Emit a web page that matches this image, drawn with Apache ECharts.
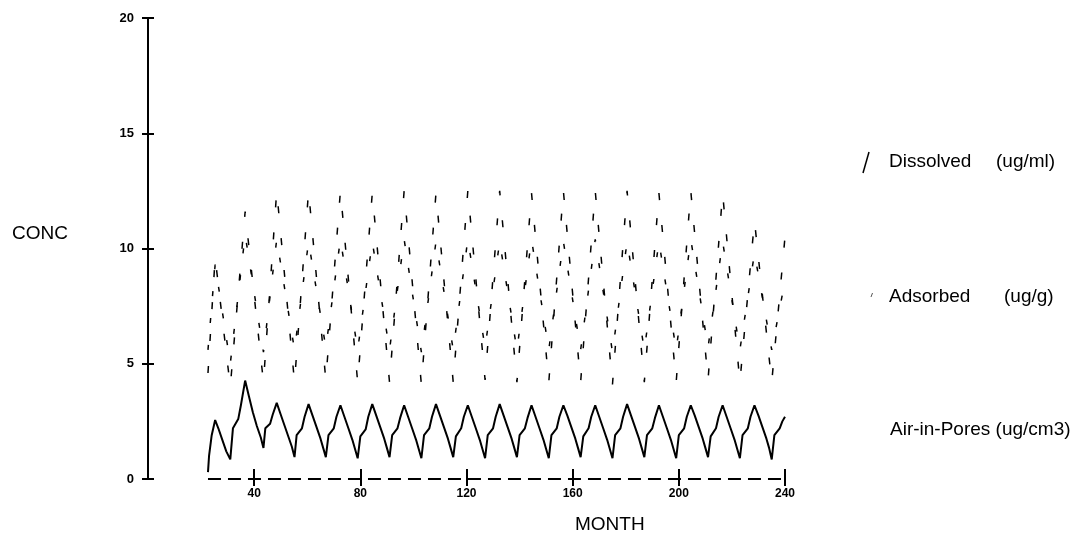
<!DOCTYPE html>
<html>
<head>
<meta charset="utf-8">
<script src="https://cdn.jsdelivr.net/npm/echarts@6/dist/echarts.min.js"></script>
<style>html,body{margin:0;padding:0;background:#fff}#c{width:1083px;height:545px}</style>
</head>
<body>
<div id="c"></div>
<script>
// ---- data (month, concentration) ----
const xTickLabels = [40, 80, 120, 160, 200, 240];
const yTickLabels = [0, 5, 10, 15, 20];
const seriesNames = ['Dissolved', 'Adsorbed', 'Air-in-Pores'];
const seriesUnits = ['(ug/ml)', '(ug/g)', '(ug/cm3)'];

const airInPores = [
[22.6,0.3],[23,1.0],[24,1.9],[25.3,2.56],[26.5,2.2],[28,1.7],[29.5,1.2],[31,0.85],
[32,2.2],[34,2.6],[35,3.2],[36.6,4.27],[38,3.6],[39.5,2.9],[41,2.3],[42.5,1.8],[43.5,1.35],
[44.2,2.2],[46,2.4],[47,2.8],[48.5,3.3],[50,2.8],[51.5,2.3],[53,1.8],[54.2,1.4],[55.2,0.95],
[56,1.9],[58,2.2],[59,2.7],[60.5,3.25],[62,2.75],[63.5,2.25],[65,1.75],[66,1.35],[67,0.95],
[68,1.9],[70,2.2],[71,2.7],[72.5,3.2],[74,2.7],[75.5,2.2],[77,1.7],[78,1.3],[79,0.9],
[80,1.85],[82,2.15],[83,2.7],[84.5,3.25],[86,2.75],[87.5,2.25],[89,1.75],[90,1.35],[91,0.95],
[92,1.9],[94,2.2],[95,2.65],[96.5,3.2],[98,2.7],[99.5,2.2],[101,1.7],[102,1.3],[103,0.9],
[104,1.9],[106,2.2],[107,2.7],[108.5,3.25],[110,2.75],[111.5,2.25],[113,1.75],[114,1.35],[115,0.95],
[116,1.85],[118,2.2],[119,2.7],[120.5,3.2],[122,2.7],[123.5,2.2],[125,1.7],[126,1.3],[127,0.9],
[128,1.9],[130,2.2],[131,2.7],[132.5,3.25],[134,2.75],[135.5,2.25],[137,1.75],[138,1.35],[139,0.95],
[140,1.9],[142,2.2],[143,2.65],[144.5,3.2],[146,2.7],[147.5,2.2],[149,1.7],[150,1.3],[151,0.9],
[152,1.9],[154,2.2],[155,2.7],[156.5,3.2],[158,2.75],[159.5,2.25],[161,1.75],[162,1.35],[163,0.95],
[164,1.85],[166,2.2],[167,2.7],[168.5,3.2],[170,2.7],[171.5,2.2],[173,1.7],[174,1.3],[175,0.9],
[176,1.9],[178,2.2],[179,2.7],[180.5,3.25],[182,2.75],[183.5,2.25],[185,1.75],[186,1.35],[187,0.95],
[188,1.9],[190,2.2],[191,2.65],[192.5,3.2],[194,2.7],[195.5,2.2],[197,1.7],[198,1.3],[199,0.9],
[200,1.9],[202,2.2],[203,2.7],[204.5,3.2],[206,2.75],[207.5,2.25],[209,1.75],[210,1.35],[211,0.95],
[212,1.85],[214,2.2],[215,2.7],[216.5,3.2],[218,2.7],[219.5,2.2],[221,1.7],[222,1.3],[223,0.9],
[224,1.9],[226,2.2],[227,2.7],[228.5,3.2],[230,2.75],[231.5,2.25],[233,1.75],[234,1.35],[235,0.85],
[236,1.9],[238,2.2],[239,2.5],[240,2.7]
];

const dissolved = [
[22.6,4.6],[25.3,9.6],[31,4.0],[36.6,11.6],[43.5,4.2],[48.5,12.5],[55.2,4.2],[60.5,12.5],
[67,4.3],[72.5,12.5],[79,4.2],[84.5,12.4],[91,4.2],[96.5,12.5],[103,4.1],[108.5,12.4],
[115,4.2],[120.5,12.5],[127,4.3],[132.5,12.5],[139,4.2],[144.5,12.4],[151,4.2],[156.5,12.5],
[163,4.2],[168.5,12.5],[175,4.1],[180.5,12.5],[187,4.2],[192.5,12.4],[199,4.2],[204.5,12.5],
[211,4.3],[216.5,12.4],[223,4.2],[228.5,11.2],[235,4.2],[240,10.5]
];

const adsorbed = [
[22.6,5.6],[25.3,9.3],[31,5.0],[36.6,10.6],[43.5,5.5],[48.5,10.4],[55.2,5.6],[60.5,10.3],
[67,5.7],[72.5,10.4],[79,5.6],[84.5,10.3],[91,5.6],[96.5,10.4],[103,5.5],[108.5,10.3],
[115,5.6],[120.5,10.4],[127,5.7],[132.5,10.3],[139,5.6],[144.5,10.4],[151,5.6],[156.5,10.3],
[163,5.6],[168.5,10.4],[175,5.5],[180.5,10.3],[187,5.6],[192.5,10.3],[199,5.6],[204.5,10.4],
[211,5.7],[216.5,10.3],[223,5.6],[228.5,9.8],[235,5.6],[240,8.6]
];

const baseline = [[22.6,0],[240,0]];

// ---- chart ----
const chart = echarts.init(document.getElementById('c'), null, {renderer: 'canvas'});
const tickFont = {color: '#000', fontFamily: 'Liberation Sans', fontWeight: 'bold', fontSize: 13};
const legendFont = {fill: '#000', font: '19px "Liberation Sans"'};

chart.setOption({
  animation: false,
  backgroundColor: '#fff',
  grid: {left: 148, right: 298, top: 18, bottom: 66, containLabel: false},
  xAxis: [
    {type: 'value', min: 0, max: 240, interval: 40,
     axisLine: {show: false}, splitLine: {show: false},
     axisTick: {show: true, length: 7, customValues: xTickLabels, lineStyle: {color: '#000', width: 2}},
     axisLabel: {show: true, margin: 9, customValues: xTickLabels, ...tickFont, fontSize: 12}},
    {type: 'value', min: 0, max: 240, interval: 40, position: 'bottom',
     axisLine: {show: false}, splitLine: {show: false},
     axisTick: {show: true, inside: true, length: 10, customValues: xTickLabels, lineStyle: {color: '#000', width: 2}},
     axisLabel: {show: false}}
  ],
  yAxis: [
    {type: 'value', min: 0, max: 20, interval: 5, position: 'left',
     axisLine: {show: true, lineStyle: {color: '#000', width: 2}},
     splitLine: {show: false},
     axisTick: {show: true, length: 6, customValues: yTickLabels, lineStyle: {color: '#000', width: 2}},
     axisLabel: {show: true, margin: 14, customValues: yTickLabels, ...tickFont}},
    {type: 'value', min: 0, max: 20, interval: 5, position: 'left',
     axisLine: {show: false}, splitLine: {show: false},
     axisTick: {show: true, inside: true, length: 6, lineStyle: {color: '#000', width: 2}},
     axisLabel: {show: false}}
  ],
  series: [
    {name: seriesNames[0], type: 'line', data: dissolved, symbol: 'none',
     lineStyle: {color: '#000', width: 1.5, type: [7, 25]}},
    {name: seriesNames[1], type: 'line', data: adsorbed, symbol: 'none',
     lineStyle: {color: '#000', width: 1.5, type: [5, 22]}},
    {name: seriesNames[2], type: 'line', data: airInPores, symbol: 'none',
     lineStyle: {color: '#000', width: 2}},
    {name: 'baseline', type: 'line', data: baseline, symbol: 'none', silent: true,
     lineStyle: {color: '#000', width: 2, type: [13, 7]}}
  ],
  graphic: [
    {type: 'text', left: 12, top: 224, style: {text: 'CONC', ...legendFont}},
    {type: 'text', left: 575, top: 515, style: {text: 'MONTH', ...legendFont}},
    {type: 'line', shape: {x1: 863, y1: 173, x2: 869, y2: 152}, style: {stroke: '#000', lineWidth: 1.5}},
    {type: 'text', left: 889, top: 152, style: {text: seriesNames[0], ...legendFont}},
    {type: 'text', left: 996, top: 152, style: {text: seriesUnits[0], ...legendFont}},
    {type: 'line', shape: {x1: 871, y1: 297, x2: 872.5, y2: 293}, style: {stroke: '#555', lineWidth: 1}},
    {type: 'text', left: 889, top: 287, style: {text: seriesNames[1], ...legendFont}},
    {type: 'text', left: 1004, top: 287, style: {text: seriesUnits[1], ...legendFont}},
    {type: 'text', left: 890, top: 420, style: {text: seriesNames[2] + ' ' + seriesUnits[2], ...legendFont}}
  ]
});
</script>
</body>
</html>
